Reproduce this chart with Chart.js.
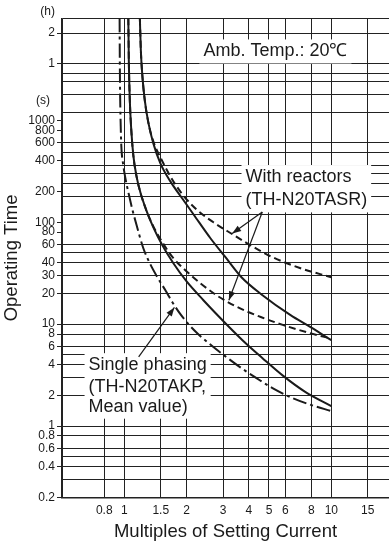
<!DOCTYPE html>
<html>
<head>
<meta charset="utf-8">
<script src="https://cdn.jsdelivr.net/npm/chart.js@4.4.0/dist/chart.umd.min.js"></script>
<style>
  html, body { margin: 0; padding: 0; background: #fff; }
  #wrap { width: 389px; height: 545px; }
</style>
</head>
<body>
<div id="wrap"><canvas id="chart" width="389" height="545"></canvas></div>
<script>
// x axis: multiples of setting current
const xTickVals = [0.5, 0.8, 1, 1.5, 2, 3, 4, 5, 6, 8, 10, 15, 19];
const xTickLabels = ['', '0.8', '1', '1.5', '2', '3', '4', '5', '6', '8', '10', '15', ''];

// y axis: operating time in seconds (2 h = 7200 s, 1 h = 3600 s)
const yTickVals = [0.2, 0.3, 0.4, 0.5, 0.6, 0.8, 1, 2, 3, 4, 5, 6, 8, 10, 20, 30, 40, 50, 60, 80, 100,
    120, 180, 200, 240, 300, 360, 400, 480, 600, 800, 1000, 1200, 1800, 2400, 2880, 3600, 7200, 10000];
const yTickLabels = ['0.2', '', '0.4', '', '0.6', '0.8', '1', '2', '', '4', '', '6', '8', '10', '20', '30', '40', '', '60', '80', '100',
    '', '', '200', '', '', '', '400', '', '600', '800', '1000', '', '', '', '', '1', '2', ''];
// values that get a full grid line (minute / hour steps)
const yGridVals = [0.2, 0.3, 0.4, 0.5, 0.6, 0.8, 1, 2, 3, 4, 5, 6, 8, 10, 20, 30, 40, 50, 60,
    120, 180, 240, 300, 360, 480, 600, 1200, 1800, 2400, 2880, 3600, 7200, 10000];

// curves (x = multiple, y = seconds)
const coldX = [1.189, 1.202, 1.222, 1.256, 1.306, 1.381, 1.494, 1.669, 1.887, 2.157, 2.607, 3.081, 3.681, 4.653, 6.356, 7.941, 10];
const coldY = [10000, 4853, 2762, 1571, 956, 595, 379, 252, 176, 120, 69.7, 45.4, 28.9, 19.25, 12.25, 9.35, 6.97];

const coldReactorX = [1.189, 1.202, 1.222, 1.256, 1.306, 1.381, 1.494, 1.669, 1.908, 2.23, 2.695, 3.331, 4.071, 5.086, 7.104, 10];
const coldReactorY = [10000, 4853, 2762, 1571, 956, 622, 434, 282.5, 188.2, 134.1, 100, 76.3, 59.5, 46.4, 35.4, 28.9];

const hotX = [1.0456, 1.0514, 1.0632, 1.081, 1.1055, 1.1432, 1.1953, 1.2777, 1.3811, 1.5271, 1.7262, 1.9953,
    2.411, 2.98, 3.723, 4.653, 5.877, 7.51, 10];
const hotY = [10000, 3875, 1571, 797.6, 453.8, 288.9, 196.8, 131.1, 89.3, 59.5, 39.6, 26.4,
    17.19, 10.94, 6.97, 4.64, 3.09, 2.154, 1.571];

const hotReactorX = [1.0456, 1.0514, 1.0632, 1.081, 1.1055, 1.1432, 1.1953, 1.2777, 1.3811, 1.5271, 1.7262, 1.9953,
    2.332, 2.787, 3.444, 4.45, 5.877, 7.594, 10];
const hotReactorY = [10000, 3875, 1571, 797.6, 453.8, 288.9, 196.8, 131.1, 91.3, 63.6, 44.4, 33.1,
    25.2, 19.24, 15.02, 11.98, 9.78, 8.35, 7.21];

const phaseX = [0.949, 0.9511, 0.9554, 0.9607, 0.9671, 0.9889, 1.0169, 1.0514, 1.0932, 1.1432, 1.2357, 1.3356,
    1.4443, 1.5791, 1.707, 1.866, 2.063, 2.332, 2.666, 3.115, 3.681, 4.352, 5.2, 6.499, 8.029, 10];
const phaseY = [10000, 3875, 1571, 893, 568.6, 362.2, 258.1, 188.2, 134.1, 95.6, 55.6, 38.7,
    28.9, 21.54, 16.43, 12.53, 9.78, 7.63, 6.085, 4.748, 3.704, 2.955, 2.358, 1.882, 1.606, 1.403];

// text boxes and arrows, placed in data coordinates
const notes = [
    { lines: ['Amb. Temp.: 20℃'], x: 2.41, y: [4750] },
    { lines: ['With reactors', '(TH-N20TASR)'], x: 3.85, y: [278, 164] },
    { lines: ['Single phasing', '(TH-N20TAKP,', 'Mean value)'], x: 0.672, y: [3.96, 2.43, 1.55] }
];
const arrows = [
    { from: [4.64, 126], to: [3.32, 77.5] },
    { from: [4.64, 126], to: [3.2, 17.2] },
    { from: [1.173, 4.78], to: [1.746, 14.6] }
];

const FONT = '"Liberation Sans", Arial, Helvetica, sans-serif';
const INK = '#1a1a1a';

function pts(xs, ys) {
    return xs.map((x, i) => ({ x: x, y: ys[i] }));
}

function curve(xs, ys, dash) {
    return {
        data: pts(xs, ys),
        borderColor: INK,
        borderWidth: 2,
        borderDash: dash,
        pointRadius: 0,
        fill: false,
        cubicInterpolationMode: 'monotone'
    };
}

function arrowHead(ctx, x0, y0, x1, y1) {
    const a = Math.atan2(y1 - y0, x1 - x0);
    const len = 9, half = 3.2;
    ctx.beginPath();
    ctx.moveTo(x1, y1);
    ctx.lineTo(x1 - len * Math.cos(a) + half * Math.sin(a), y1 - len * Math.sin(a) - half * Math.cos(a));
    ctx.lineTo(x1 - len * Math.cos(a) - half * Math.sin(a), y1 - len * Math.sin(a) + half * Math.cos(a));
    ctx.closePath();
    ctx.fill();
}

// labelled boxes, arrows and the (h)/(s) unit marks
const notePlugin = {
    id: 'notes',
    afterDatasetsDraw(chart) {
        const { ctx } = chart;
        const xs = chart.scales.x, ys = chart.scales.y;
        ctx.save();
        ctx.font = '18px ' + FONT;
        ctx.textBaseline = 'middle';
        notes.forEach(n => {
            const left = xs.getPixelForValue(n.x);
            const py = n.y.map(v => ys.getPixelForValue(v));
            const w = Math.max(...n.lines.map(t => ctx.measureText(t).width));
            ctx.fillStyle = '#fff';
            ctx.fillRect(left - 4, py[0] - 12, w + 8, py[py.length - 1] - py[0] + 24);
            ctx.fillStyle = INK;
            n.lines.forEach((t, i) => ctx.fillText(t, left, py[i]));
        });
        ctx.strokeStyle = INK;
        ctx.fillStyle = INK;
        ctx.lineWidth = 1.2;
        arrows.forEach(a => {
            const x0 = xs.getPixelForValue(a.from[0]), y0 = ys.getPixelForValue(a.from[1]);
            const x1 = xs.getPixelForValue(a.to[0]), y1 = ys.getPixelForValue(a.to[1]);
            ctx.beginPath();
            ctx.moveTo(x0, y0);
            ctx.lineTo(x1, y1);
            ctx.stroke();
            arrowHead(ctx, x0, y0, x1, y1);
        });
        ctx.restore();
    },
    afterDraw(chart) {
        const { ctx, chartArea } = chart;
        const ys = chart.scales.y;
        ctx.save();
        ctx.font = '12px ' + FONT;
        ctx.fillStyle = INK;
        ctx.textAlign = 'right';
        ctx.textBaseline = 'middle';
        ctx.fillText('(h)', chartArea.left - 7, chartArea.top - 7);
        ctx.fillText('(s)', chartArea.left - 12, ys.getPixelForValue(1570));
        ctx.restore();
    }
};

new Chart(document.getElementById('chart'), {
    type: 'line',
    data: {
        datasets: [
            curve(coldX, coldY, []),
            curve(hotX, hotY, []),
            curve(coldReactorX, coldReactorY, [7, 4]),
            curve(hotReactorX, hotReactorY, [7, 4]),
            curve(phaseX, phaseY, [14, 4, 3, 4])
        ]
    },
    options: {
        responsive: false,
        animation: false,
        layout: { padding: { top: 18.5, right: 0, bottom: 0, left: 0 } },
        plugins: { legend: { display: false }, tooltip: { enabled: false } },
        scales: {
            x: {
                type: 'logarithmic',
                min: 0.5,
                max: 19,
                afterBuildTicks: s => { s.ticks = xTickVals.map(v => ({ value: v })); },
                afterFit: s => { s.height = 47.7; s.paddingLeft = 0; s.paddingRight = 0; },
                ticks: {
                    autoSkip: false,
                    maxRotation: 0,
                    padding: 6,
                    color: INK,
                    font: { family: FONT, size: 12 },
                    callback: (v, i) => xTickLabels[i]
                },
                grid: {
                    drawTicks: false,
                    lineWidth: 1,
                    color: c => (c.tick && c.tick.value === 19) ? 'rgba(0,0,0,0)' : '#222'
                },
                border: { color: '#222', width: 1.5 },
                title: {
                    display: true,
                    text: 'Multiples of Setting Current',
                    color: INK,
                    font: { family: FONT, size: 18.5 },
                    padding: { top: 0, bottom: 2 }
                }
            },
            y: {
                type: 'logarithmic',
                min: 0.2,
                max: 10000,
                afterBuildTicks: s => { s.ticks = yTickVals.map(v => ({ value: v })); },
                afterFit: s => { s.width = 62; s.paddingTop = 0; s.paddingBottom = 0; },
                ticks: {
                    autoSkip: false,
                    padding: 2,
                    color: INK,
                    font: { family: FONT, size: 12 },
                    callback: (v, i) => yTickLabels[i]
                },
                grid: {
                    lineWidth: 1,
                    tickLength: 5,
                    color: c => (c.tick && yGridVals.includes(c.tick.value)) ? '#222' : 'rgba(0,0,0,0)',
                    tickColor: c => (c.tick && yTickLabels[c.index] !== '') ? '#222' : 'rgba(0,0,0,0)'
                },
                border: { color: '#222', width: 1.5 },
                title: {
                    display: true,
                    text: 'Operating Time',
                    color: INK,
                    font: { family: FONT, size: 18.5 },
                    padding: { top: 1, bottom: 0 }
                }
            }
        }
    },
    plugins: [notePlugin]
});
</script>
</body>
</html>
